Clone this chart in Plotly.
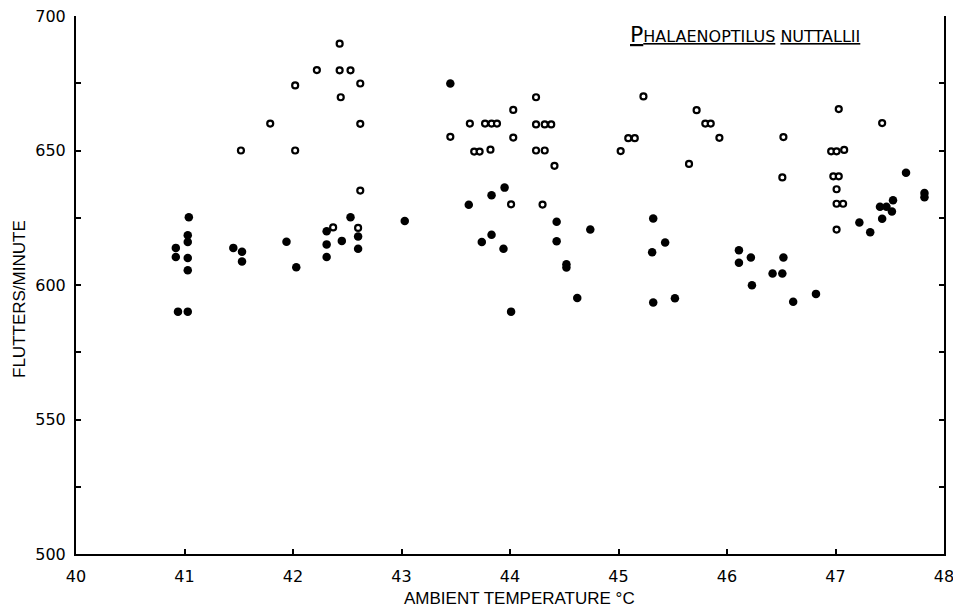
import plotly.graph_objects as go

# Open circles
open_temp = [42.43, 42.22, 42.43, 42.53, 42.02, 42.62, 42.44, 41.79, 42.62, 41.52, 42.02, 42.62, 42.37, 42.60,
             44.24, 45.23, 44.03, 43.63, 43.77, 43.83, 43.88, 44.24, 44.32, 44.38, 43.45, 44.03, 45.09, 45.15,
             43.67, 43.72, 43.82, 44.24, 44.32, 45.02, 44.41, 44.01, 44.30,
             45.72, 45.80, 45.85, 45.93, 45.65, 46.52, 46.51, 47.03, 47.43, 46.96, 47.01, 47.08, 46.98, 47.03,
             47.01, 47.01, 47.07, 47.01]
open_flutter = [689.7, 679.9, 679.8, 679.8, 674.2, 674.9, 669.8, 660.0, 659.9, 650.0, 650.0, 635.1, 621.4, 621.2,
                669.8, 670.1, 665.1, 660.0, 660.0, 660.0, 660.0, 659.7, 659.7, 659.7, 655.1, 654.8, 654.6, 654.6,
                649.6, 649.6, 650.3, 650.0, 650.0, 649.8, 644.3, 630.0, 629.9,
                665.0, 660.0, 660.0, 654.7, 645.0, 655.0, 640.0, 665.4, 660.2, 649.7, 649.7, 650.2, 640.4, 640.4,
                635.6, 630.2, 630.2, 620.6]

# Filled circles
filled_temp = [40.92, 41.03, 41.03, 41.03, 41.03, 40.94, 41.03, 41.04, 40.92, 41.45, 41.53, 41.53, 41.94, 42.03,
               42.31, 42.31, 42.31, 42.45, 42.53, 42.60, 42.60, 43.03,
               43.45, 43.95, 43.83, 43.62, 44.43, 44.74, 45.32, 43.83, 43.74, 43.94, 44.43, 45.31, 44.52, 44.52,
               44.62, 44.01, 45.32,
               45.43, 45.52, 46.11, 46.11, 46.22, 46.23, 46.42, 46.51, 46.52, 46.61, 46.82, 47.22, 47.32, 47.43,
               47.41, 47.47, 47.52, 47.53, 47.65, 47.82, 47.82]
filled_flutter = [613.8, 618.5, 616.0, 610.0, 605.5, 590.1, 590.1, 625.2, 610.4, 613.8, 612.4, 608.7, 616.1, 606.6,
                  620.0, 615.1, 610.4, 616.4, 625.2, 618.0, 613.5, 623.8,
                  674.9, 636.2, 633.4, 629.8, 623.5, 620.6, 624.7, 618.7, 616.0, 613.5, 616.3, 612.2, 607.7, 606.5,
                  595.2, 590.1, 593.5,
                  615.8, 595.1, 612.9, 608.3, 610.2, 599.9, 604.3, 604.3, 610.2, 593.8, 596.7, 623.2, 619.6, 624.6,
                  629.1, 629.1, 627.3, 631.5, 641.7, 634.2, 632.6]

x_ticks = [40, 41, 42, 43, 44, 45, 46, 47, 48]
y_ticks = [500, 525, 550, 575, 600, 625, 650, 675, 700]
y_ticktext = ["500", "", "550", "", "600", "", "650", "", "700"]

fig = go.Figure()
fig.add_trace(go.Scatter(
    x=filled_temp, y=filled_flutter, mode="markers",
    marker=dict(symbol="circle", size=8.5, color="black", line=dict(width=0)),
    showlegend=False, cliponaxis=False))
fig.add_trace(go.Scatter(
    x=open_temp, y=open_flutter, mode="markers",
    marker=dict(symbol="circle", size=6, color="white", line=dict(width=2.2, color="black")),
    showlegend=False, cliponaxis=False))

tick_font = dict(family="DejaVu Sans", size=16, color="black")
label_font = dict(family="Liberation Sans", size=17, color="black")

fig.update_layout(
    width=953, height=613,
    margin=dict(l=76, r=9, t=16, b=59),
    paper_bgcolor="white", plot_bgcolor="white",
    xaxis=dict(range=[40, 48], tickvals=x_ticks, ticks="inside", ticklen=5, tickwidth=1.5,
               tickcolor="black", showline=True, linecolor="black", linewidth=2, mirror=False,
               showgrid=False, zeroline=False, tickfont=tick_font, ticklabelstandoff=7,
               ticklabeloverflow="allow", automargin=False),
    yaxis=dict(range=[500, 700], tickvals=y_ticks, ticktext=y_ticktext, ticks="inside", ticklen=5,
               tickwidth=1.5, tickcolor="black", showline=True, linecolor="black", linewidth=2,
               mirror="ticks", showgrid=False, zeroline=False, tickfont=tick_font,
               ticklabelstandoff=5, ticklabeloverflow="allow", automargin=False),
    annotations=[
        dict(text="AMBIENT TEMPERATURE °C", xref="paper", yref="paper", x=0.511, y=0,
             yshift=-44, xanchor="center", yanchor="middle", showarrow=False, font=label_font),
        dict(text="FLUTTERS/MINUTE", xref="paper", yref="paper", x=0, xshift=-56, y=0.474,
             xanchor="center", yanchor="middle", textangle=-90, showarrow=False, font=label_font),
        dict(text="<u><span style='font-size:22px'>P</span>HALAENOPTILUS</u> <u>NUTTALLII</u>",
             xref="paper", yref="paper", x=0.771, y=0.965, xanchor="center", yanchor="middle",
             showarrow=False, font=dict(family="DejaVu Sans", size=16, color="black")),
    ],
)

# remove the default page margin and scrollbars so the figure fills the window exactly
fig.write_html(
    "out.html",
    config={"displayModeBar": False, "responsive": False},
    post_script="document.body.style.margin='0px';document.body.style.overflow='hidden';"
                "document.documentElement.style.overflow='hidden';",
)
